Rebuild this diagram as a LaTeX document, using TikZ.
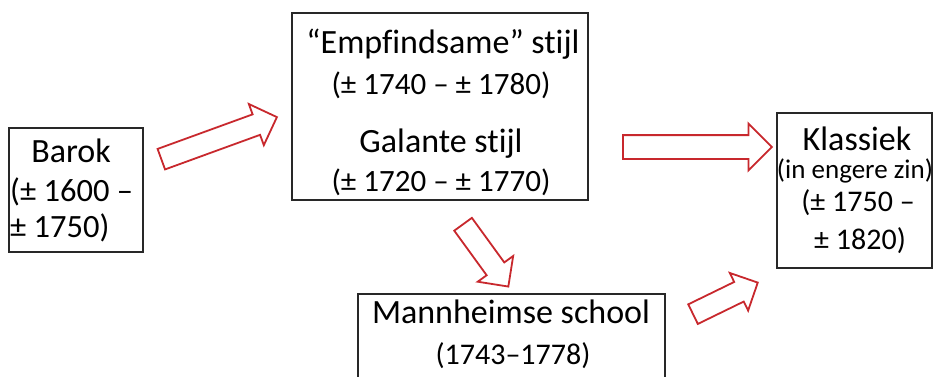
\documentclass[tikz,border=0pt]{standalone}
\usepackage{fontspec}
\setmainfont{Carlito}[Ligatures=NoCommon]
\usetikzlibrary{shapes.arrows}
\definecolor{arrowred}{RGB}{200,40,45}
\definecolor{boxline}{RGB}{40,40,40}
\begin{document}
\begin{tikzpicture}[x=1pt,y=-1pt,
  box/.style={draw=boxline, line width=1.4pt, fill=white, inner sep=0pt},
  txt/.style={font=\fontsize{34}{40}\selectfont, inner sep=0pt, text height=21pt, text depth=0pt},
  datetxt/.style={font=\fontsize{#1}{36}\selectfont, inner sep=0pt, text height=19pt, text depth=0pt},
  smalltxt/.style={font=\fontsize{27}{30}\selectfont, inner sep=0pt, text height=16pt, text depth=0pt},
  blockarrow/.style={single arrow, draw=arrowred, line width=1.8pt, fill=white,
    inner xsep=0pt, inner ysep=10pt, single arrow tip angle=90,
    single arrow head extend=11pt, minimum height=#1, anchor=center}]
\clip (0,0) rectangle (934,376);
\fill[white] (0,0) rectangle (934,376);

% boxes
\node[box, minimum width=134pt, minimum height=124pt] (barok) at (76,190) {};
\node[box, minimum width=296pt, minimum height=187pt] (galant) at (440,106.5) {};
\node[box, minimum width=155pt, minimum height=155pt] (klass) at (854.5,190.5) {};
\node[box, minimum width=307pt, minimum height=96pt] (mann) at (511.5,342) {};

% texts
\node[txt] (t1) at (71,152) {Barok};
\node[datetxt=32.5, anchor=west] (t2) at (10,192) {(± 1600 –};
\node[datetxt=32.5, anchor=west] (t3) at (10,228) {± 1750)};

\node[txt] (t4) at (443,43) {“Empfindsame” stijl};
\node[datetxt=31] (t5) at (441,85) {(± 1740 – ± 1780)};
\node[txt] (t6) at (441,142) {Galante stijl};
\node[datetxt=31] (t7) at (441,182) {(± 1720 – ± 1770)};

\node[txt] (t8) at (857,140) {Klassiek};
\node[smalltxt] (t9) at (855,170) {(in engere zin)};
\node[datetxt=30] (t10) at (858,202) {(± 1750 –};
\node[datetxt=30] (t11) at (860,240) {± 1820)};

\node[txt] (t12) at (511,313) {Mannheimse school};
\node[datetxt=30] (t13) at (513,355) {(1743–1778)};

% block arrows
\node[blockarrow=123pt, rotate=20] (a1) at (214,140) {};
\node[blockarrow=149pt, inner ysep=11pt, single arrow head extend=11.5pt] (a2) at (691.5,147) {};
\node[blockarrow=77pt, rotate=-54] (a3) at (482.5,251) {};
\node[blockarrow=72pt, rotate=26, single arrow head extend=10pt] (a4) at (720.5,300.75) {};
\end{tikzpicture}
\end{document}
